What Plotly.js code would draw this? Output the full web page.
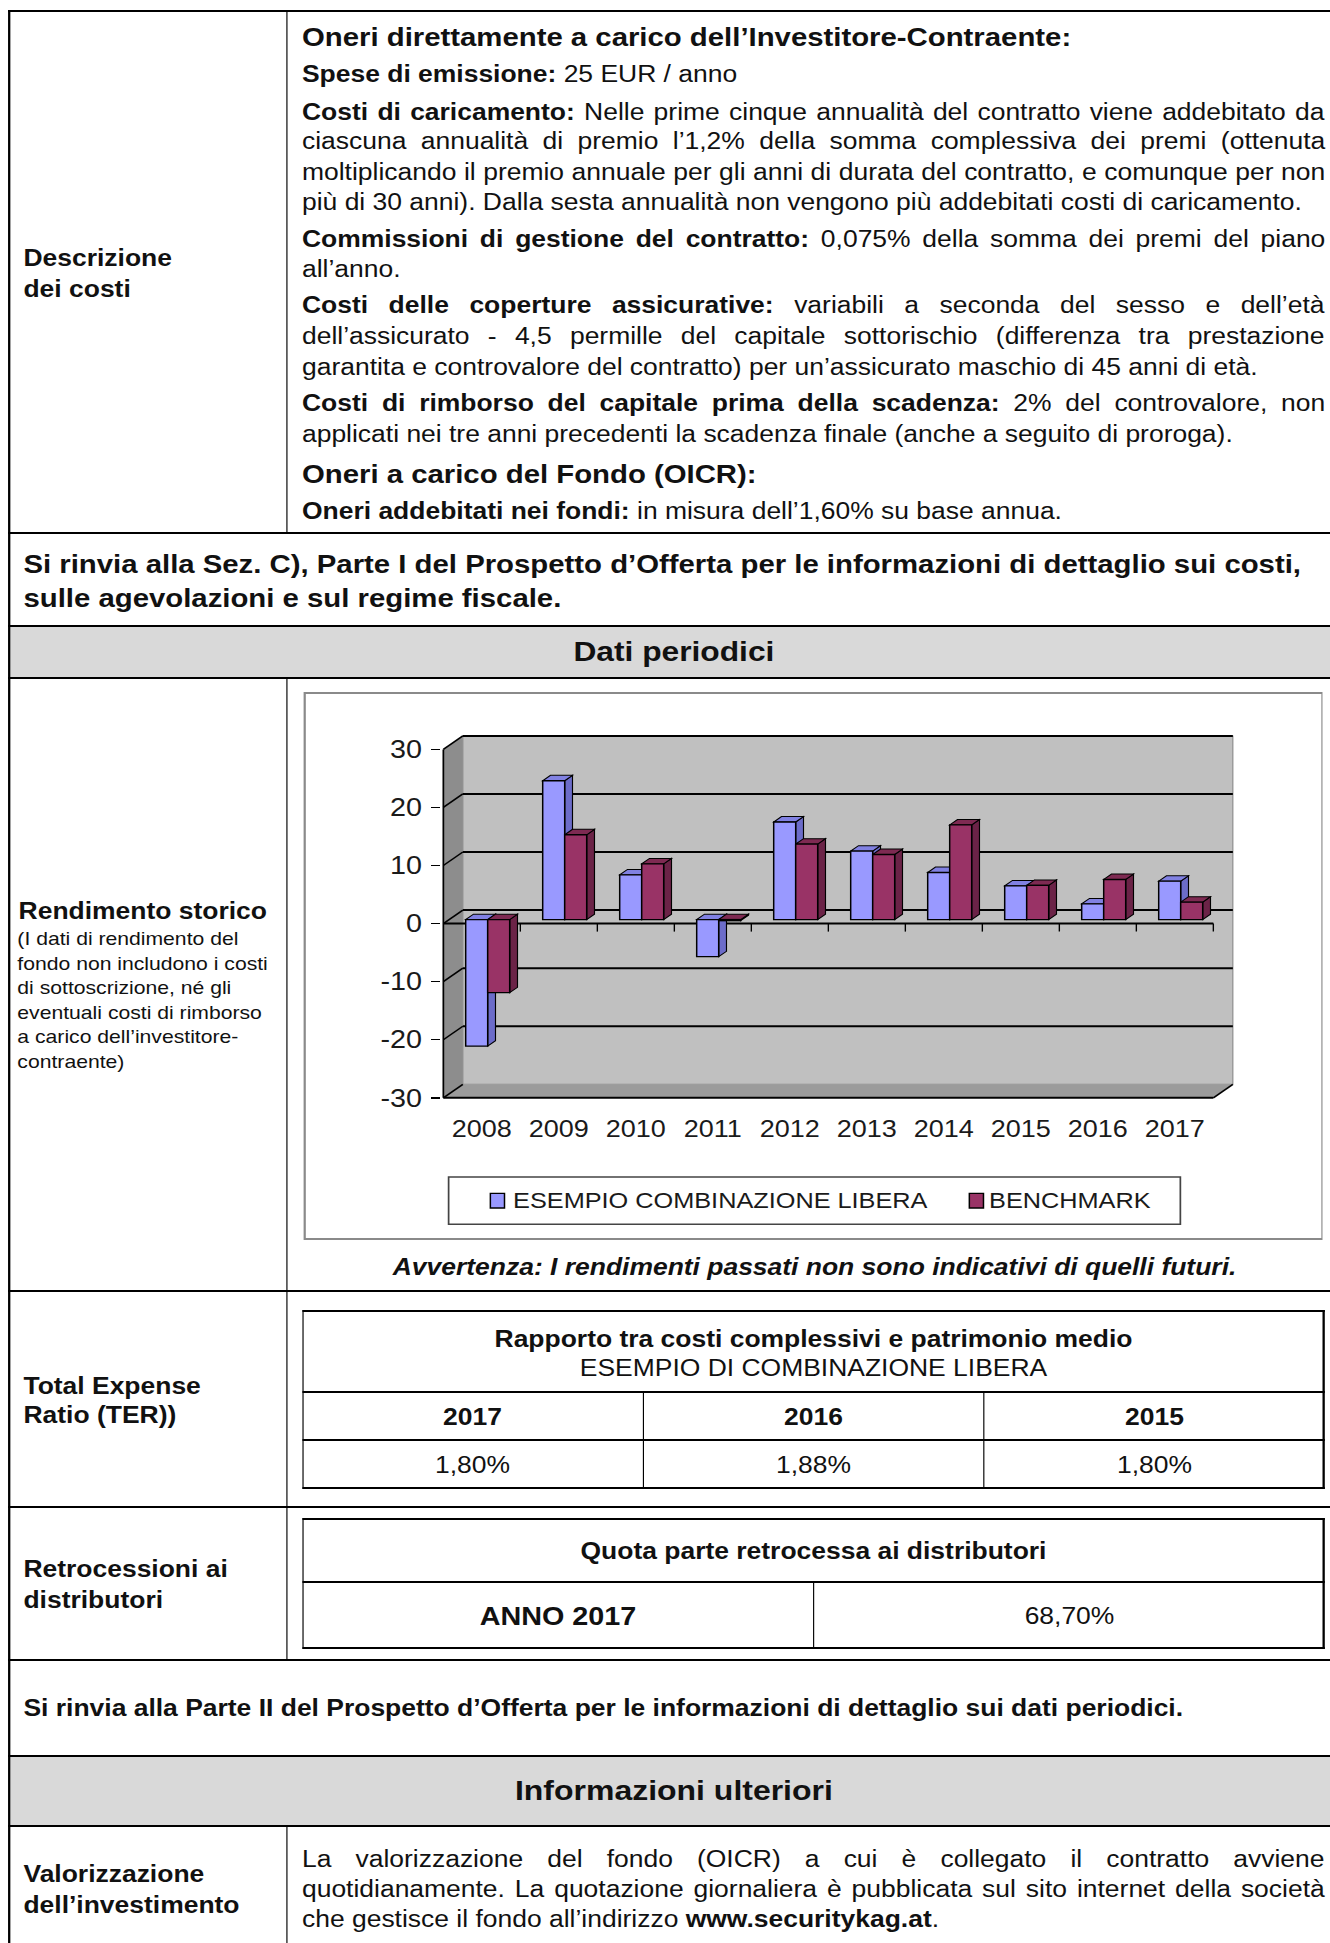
<!DOCTYPE html>
<html><head><meta charset="utf-8">
<script src="https://cdn.plot.ly/plotly-3.0.1.min.js"></script>
<style>
html,body{margin:0;padding:0;background:#fff;}
body{width:1330px;height:1943px;overflow:hidden;position:relative;}
#page{position:absolute;left:0;top:0;width:1166px;height:1943px;transform:scaleX(1.15);transform-origin:0 0;font-family:"Liberation Sans",Arial,Helvetica,sans-serif;color:#111;}
.t{position:absolute;white-space:nowrap;line-height:30px;height:30px;font-size:23px;}
.b{font-weight:bold;}
.c{text-align:center;}
.j span{white-space:nowrap;}
.hl{position:absolute;background:#000;height:2px;}
.vl{position:absolute;background:#000;width:1.8px;}
.gray{position:absolute;background:#d9d9d9;}
#chartbox{position:absolute;left:263.7px;top:691.7px;width:886.5px;height:548px;border:2px solid #8a8a8a;box-sizing:border-box;background:#fff;}
#chart{position:absolute;left:0;top:0;width:883px;height:544px;}
</style></head>
<body>
<div id="page">
  <!-- backgrounds -->
  <div class="gray" style="left:8.8px;top:627px;width:1160px;height:50px;"></div>
  <div class="gray" style="left:8.8px;top:1757px;width:1160px;height:68px;"></div>
  <!-- horizontal lines -->
  <div class="hl" style="left:7px;width:1160px;top:10px;"></div>
  <div class="hl" style="left:7px;width:1160px;top:532px;"></div>
  <div class="hl" style="left:7px;width:1160px;top:625px;"></div>
  <div class="hl" style="left:7px;width:1160px;top:677px;"></div>
  <div class="hl" style="left:7px;width:1160px;top:1290px;"></div>
  <div class="hl" style="left:7px;width:1160px;top:1506px;"></div>
  <div class="hl" style="left:7px;width:1160px;top:1659px;"></div>
  <div class="hl" style="left:7px;width:1160px;top:1755px;"></div>
  <div class="hl" style="left:7px;width:1160px;top:1825px;"></div>
  <!-- vertical lines -->
  <div class="vl" style="left:7px;top:10px;height:1933px;"></div>
  <div class="vl" style="left:1163px;top:10px;height:1933px;"></div>
  <div class="vl" style="left:248.7px;top:10px;height:524px;"></div>
  <div class="vl" style="left:248.7px;top:677px;height:984px;"></div>
  <div class="vl" style="left:248.7px;top:1825px;height:120px;"></div>

  <!-- Row 1 -->
  <div class="t b" style="left:20.4px;top:243px;">Descrizione</div>
  <div class="t b" style="left:20.4px;top:274px;">dei costi</div>

  <div class="t b" style="left:262.6px;top:22px;font-size:25.5px;">Oneri direttamente a carico dell’Investitore-Contraente:</div>
  <div class="t" style="left:262.6px;top:59px;"><b>Spese di emissione:</b> 25 EUR / anno</div>
  <div class="t j" style="left:262.6px;top:96.5px;width:889.4px;"><span><b>Costi di caricamento:</b> Nelle prime cinque annualità del contratto viene addebitato da</span></div>
  <div class="t j" style="left:262.6px;top:126px;width:889.4px;"><span>ciascuna annualità di premio l’1,2% della somma complessiva dei premi (ottenuta</span></div>
  <div class="t j" style="left:262.6px;top:157px;width:889.4px;"><span>moltiplicando il premio annuale per gli anni di durata del contratto, e comunque per non</span></div>
  <div class="t" style="left:262.6px;top:187px;">più di 30 anni). Dalla sesta annualità non vengono più addebitati costi di caricamento.</div>
  <div class="t j" style="left:262.6px;top:224px;width:889.4px;"><span><b>Commissioni di gestione del contratto:</b> 0,075% della somma dei premi del piano</span></div>
  <div class="t" style="left:262.6px;top:254px;">all’anno.</div>
  <div class="t j" style="left:262.6px;top:290px;width:889.4px;"><span><b>Costi delle coperture assicurative:</b> variabili a seconda del sesso e dell’età</span></div>
  <div class="t j" style="left:262.6px;top:321px;width:889.4px;"><span>dell’assicurato - 4,5 permille del capitale sottorischio (differenza tra prestazione</span></div>
  <div class="t" style="left:262.6px;top:352px;">garantita e controvalore del contratto) per un’assicurato maschio di 45 anni di età.</div>
  <div class="t j" style="left:262.6px;top:388px;width:889.4px;"><span><b>Costi di rimborso del capitale prima della scadenza:</b> 2% del controvalore, non</span></div>
  <div class="t" style="left:262.6px;top:419px;">applicati nei tre anni precedenti la scadenza finale (anche a seguito di proroga).</div>
  <div class="t b" style="left:262.6px;top:458.5px;font-size:25.5px;">Oneri a carico del Fondo (OICR):</div>
  <div class="t" style="left:262.6px;top:495.7px;"><b>Oneri addebitati nei fondi:</b> in misura dell’1,60% su base annua.</div>

  <!-- Si rinvia Sez C -->
  <div class="t b" style="left:20.4px;top:549px;font-size:25.5px;">Si rinvia alla Sez. C), Parte I del Prospetto d’Offerta per le informazioni di dettaglio sui costi,</div>
  <div class="t b" style="left:20.4px;top:582.5px;font-size:25.5px;">sulle agevolazioni e sul regime fiscale.</div>

  <!-- Dati periodici -->
  <div class="t b c" style="left:7px;width:1158px;top:637px;font-size:27.6px;">Dati periodici</div>

  <!-- Rendimento storico -->
  <div class="t b" style="left:16.2px;top:896px;">Rendimento storico</div>
  <div class="t" style="left:15.1px;top:927.25px;font-size:18.4px;line-height:24.5px;height:auto;">(I dati di rendimento del<br>fondo non includono i costi<br>di sottoscrizione, né gli<br>eventuali costi di rimborso<br>a carico dell’investitore-<br>contraente)</div>

  <div id="chartbox"><div id="chart"></div></div>

  <div class="t b c" style="left:251.3px;width:914px;top:1252px;font-style:italic;">Avvertenza: I rendimenti passati non sono indicativi di quelli futuri.</div>

  <!-- TER -->
  <div class="t b" style="left:20.4px;top:1371px;">Total Expense</div>
  <div class="t b" style="left:20.4px;top:1400px;">Ratio (TER))</div>
  <div class="hl" style="left:262.6px;width:889.6px;top:1310px;"></div>
  <div class="hl" style="left:262.6px;width:889.6px;top:1391px;"></div>
  <div class="hl" style="left:262.6px;width:889.6px;top:1439px;height:1.5px;"></div>
  <div class="hl" style="left:262.6px;width:889.6px;top:1486.5px;"></div>
  <div class="vl" style="left:262.6px;top:1310px;height:178.5px;"></div>
  <div class="vl" style="left:1150.4px;top:1310px;height:178.5px;"></div>
  <div class="vl" style="left:558.5px;top:1391px;height:97px;width:1.3px;"></div>
  <div class="vl" style="left:855.1px;top:1391px;height:97px;width:1.3px;"></div>
  <div class="t b c" style="left:262.6px;width:889.6px;top:1324px;">Rapporto tra costi complessivi e patrimonio medio</div>
  <div class="t c" style="left:262.6px;width:889.6px;top:1353px;">ESEMPIO DI COMBINAZIONE LIBERA</div>
  <div class="t b c" style="left:262.6px;width:296.5px;top:1402px;">2017</div>
  <div class="t b c" style="left:559.1px;width:296.6px;top:1402px;">2016</div>
  <div class="t b c" style="left:855.7px;width:296.5px;top:1402px;">2015</div>
  <div class="t c" style="left:262.6px;width:296.5px;top:1450px;">1,80%</div>
  <div class="t c" style="left:559.1px;width:296.6px;top:1450px;">1,88%</div>
  <div class="t c" style="left:855.7px;width:296.5px;top:1450px;">1,80%</div>

  <!-- Retrocessioni -->
  <div class="t b" style="left:20.4px;top:1554px;">Retrocessioni ai</div>
  <div class="t b" style="left:20.4px;top:1585px;">distributori</div>
  <div class="hl" style="left:262.6px;width:889.6px;top:1517.7px;"></div>
  <div class="hl" style="left:262.6px;width:889.6px;top:1580.7px;"></div>
  <div class="hl" style="left:262.6px;width:889.6px;top:1647.3px;"></div>
  <div class="vl" style="left:262.6px;top:1517.7px;height:131.6px;"></div>
  <div class="vl" style="left:1150.4px;top:1517.7px;height:131.6px;"></div>
  <div class="vl" style="left:707.2px;top:1580.7px;height:68px;width:1.3px;"></div>
  <div class="t b c" style="left:262.6px;width:889.6px;top:1536px;">Quota parte retrocessa ai distributori</div>
  <div class="t b c" style="left:262.6px;width:445.2px;top:1601px;font-size:25px;">ANNO 2017</div>
  <div class="t c" style="left:707.8px;width:444.4px;top:1601px;">68,70%</div>

  <!-- Si rinvia Parte II -->
  <div class="t b" style="left:20.4px;top:1693px;">Si rinvia alla Parte II del Prospetto d’Offerta per le informazioni di dettaglio sui dati periodici.</div>

  <!-- Informazioni ulteriori -->
  <div class="t b c" style="left:7px;width:1158px;top:1776px;font-size:27.8px;">Informazioni ulteriori</div>

  <div class="t b" style="left:20.4px;top:1859px;">Valorizzazione</div>
  <div class="t b" style="left:20.4px;top:1890px;">dell’investimento</div>
  <div class="t j" style="left:262.6px;top:1844px;width:889.4px;"><span>La valorizzazione del fondo (OICR) a cui è collegato il contratto avviene</span></div>
  <div class="t j" style="left:262.6px;top:1874px;width:889.4px;"><span>quotidianamente. La quotazione giornaliera è pubblicata sul sito internet della società</span></div>
  <div class="t" style="left:262.6px;top:1904px;">che gestisce il fondo all’indirizzo <b>www.securitykag.at</b>.</div>
</div>

<script>
// ---- justify single lines exactly ----
document.querySelectorAll('.j').forEach(function(el){
  var span = el.querySelector('span');
  var natural = span.offsetWidth;
  var target = parseFloat(el.style.width);
  var n = (span.textContent.match(/ /g) || []).length;
  if (n > 0) el.style.wordSpacing = ((target - natural) / n) + 'px';
});

// ---- chart data ----
const years = ['2008','2009','2010','2011','2012','2013','2014','2015','2016','2017'];
const seriesNames = ['ESEMPIO COMBINAZIONE LIBERA', 'BENCHMARK'];
const esempioValues = [-21.8, 23.9, 7.7, -6.4, 16.8, 11.8, 8.1, 5.8, 2.7, 6.6];
const benchmarkValues = [-12.6, 14.6, 9.6, -0.2, 13.0, 11.2, 16.3, 5.9, 6.9, 3.0];
const yTickValues = [-30, -20, -10, 0, 10, 20, 30];
const yTickLabels = ['-30', '-20', '-10', '0', '10', '20', '30'];

// ---- styling / geometry ----
const frontColors = ['#9999ff', '#993366'];
const sideColors = ['#6c6cc9', '#6b2347'];
const topColors = ['#8181e2', '#7e2a52'];
const FIG_W = 883, FIG_H = 544;
const CAT_PX = 77 / 1.15;       // px per category
const UNIT_PX = 5.807;          // px per value unit
const X0 = 443 / 1.15 - 265.7;  // px of x = 0 inside figure
const Y0 = 923.3 - 693.7;       // px of y = 0 inside figure
const lM = Math.round(X0 - 0.016 * CAT_PX);
const rM = Math.round(FIG_W - (X0 + 10.3 * CAT_PX));
const tM = Math.round(Y0 - 32.6 * UNIT_PX);
const bM = Math.round(FIG_H - (Y0 + 30.6 * UNIT_PX));
const xMin = (lM - X0) / CAT_PX, xMax = (FIG_W - rM - X0) / CAT_PX;
const yMax = (Y0 - tM) / UNIT_PX, yMin = (Y0 - (FIG_H - bM)) / UNIT_PX;
const PW = FIG_W - lM - rM, PH = FIG_H - tM - bM;
const px = function(x){ return (x - lM) / PW; };
const py = function(y){ return (tM + PH - y) / PH; };

const nCat = years.length;
const yLo = Math.min.apply(null, yTickValues), yHi = Math.max.apply(null, yTickValues);
const wallDX = 19.5 / 77, wallDY = 13.5 / UNIT_PX;
const barW = 22 / 77;
const sx = 0.3 * wallDX, sy = 0.3 * wallDY, ddx = 0.4 * wallDX, ddy = 0.4 * wallDY;

function poly(pts, fill, lineColor, lw) {
  return {type:'path', xref:'x', yref:'y', layer:'below',
    path: 'M' + pts.map(function(p){ return p[0] + ',' + p[1]; }).join('L') + 'Z',
    fillcolor: fill, line:{color: lineColor || 'rgba(0,0,0,0)', width: lw || 0}};
}
function seg(x0, y0, x1, y1, color, w) {
  return {type:'line', xref:'x', yref:'y', layer:'below', x0:x0, y0:y0, x1:x1, y1:y1, line:{color:color, width:w}};
}

const shapes = [];
shapes.push(poly([[0,yLo],[0,yHi],[wallDX,yHi+wallDY],[wallDX,yLo+wallDY]], '#8d8d8d'));
shapes.push(poly([[wallDX,yLo+wallDY],[wallDX,yHi+wallDY],[nCat+wallDX,yHi+wallDY],[nCat+wallDX,yLo+wallDY]], '#c0c0c0', '#8a8a8a', 1));
shapes.push(poly([[0,yLo],[nCat,yLo],[nCat+wallDX,yLo+wallDY],[wallDX,yLo+wallDY]], '#9b9b9b'));
yTickValues.forEach(function(v){
  if (v > yLo) shapes.push(seg(wallDX, v + wallDY, nCat + wallDX, v + wallDY, '#000', 2));
  shapes.push(seg(0, v, wallDX, v + wallDY, '#000', 1.5));
});
shapes.push(seg(0, yLo, nCat, yLo, '#000', 2));
shapes.push(seg(nCat, yLo, nCat + wallDX, yLo + wallDY, '#000', 1.5));
shapes.push(seg(0, yLo, 0, yHi, '#000', 1.5));
shapes.push(seg(0, 0, nCat, 0, '#000', 2));
for (let i = 1; i <= nCat; i++) shapes.push(seg(i, 0, i, -8 / UNIT_PX, '#000', 1.2));

const series = [esempioValues, benchmarkValues];
for (let i = 0; i < nCat; i++) {
  series.forEach(function(vals, s){
    const v = vals[i];
    const x0 = i + 0.5 + (s - 1) * barW + sx, x1 = x0 + barW;
    const lo = sy + Math.min(v, 0), hi = sy + Math.max(v, 0);
    shapes.push(poly([[x1,lo],[x1+ddx,lo+ddy],[x1+ddx,hi+ddy],[x1,hi]], sideColors[s], '#000', 1));
    shapes.push(poly([[x0,hi],[x1,hi],[x1+ddx,hi+ddy],[x0+ddx,hi+ddy]], topColors[s], '#000', 1));
  });
}

// legend (box, swatches, labels)
shapes.push({type:'rect', xref:'paper', yref:'paper', x0:px(124.1), x1:px(760.4), y0:py(530.3), y1:py(483),
  line:{color:'#444', width:1.5}, fillcolor:'rgba(0,0,0,0)'});
const swatchX = [160.4, 576.9], labelX = [178.6, 593.4];
const annotations = [];
seriesNames.forEach(function(name, s){
  shapes.push({type:'rect', xref:'paper', yref:'paper', x0:px(swatchX[s]), x1:px(swatchX[s] + 12.3),
    y0:py(514), y1:py(499.3), fillcolor: frontColors[s], line:{color:'#000', width:1.3}});
  annotations.push({xref:'paper', yref:'paper', x:px(labelX[s]), y:py(506.1), xanchor:'left', yanchor:'middle',
    text:name, showarrow:false, borderpad:0, font:{size:22, color:'#1a1a1a'}});
});

const traces = series.map(function(vals, s){
  return {type:'bar', name: seriesNames[s],
    x: years.map(function(_, i){ return i + 0.5 + (s - 0.5) * barW + sx; }),
    y: vals, base: sy, width: barW,
    marker:{color: frontColors[s], line:{color:'#000', width:1.3}},
    showlegend:false, hoverinfo:'skip'};
});

const layout = {
  width: FIG_W, height: FIG_H,
  margin:{l:lM, r:rM, t:tM, b:bM, pad:0},
  paper_bgcolor:'#fff', plot_bgcolor:'rgba(0,0,0,0)',
  barmode:'overlay', showlegend:false,
  font:{family:'"Liberation Sans", Arial, sans-serif', color:'#1a1a1a'},
  xaxis:{range:[xMin, xMax], tickvals: years.map(function(_, i){ return i + 0.5; }), ticktext: years,
    showgrid:false, zeroline:false, showline:false, ticks:'outside', ticklen:7, tickcolor:'rgba(0,0,0,0)',
    tickfont:{size:23.5}, fixedrange:true},
  yaxis:{range:[yMin, yMax], tickvals: yTickValues, ticktext: yTickLabels, ticks:'outside', ticklen:8, tickwidth:1.5, tickcolor:'#000',
    ticklabelstandoff:3, showgrid:false, zeroline:false, showline:false, tickfont:{size:25}, fixedrange:true},
  shapes: shapes, annotations: annotations
};
Plotly.newPlot('chart', traces, layout, {displayModeBar:false, staticPlot:true});
</script>
</body></html>
